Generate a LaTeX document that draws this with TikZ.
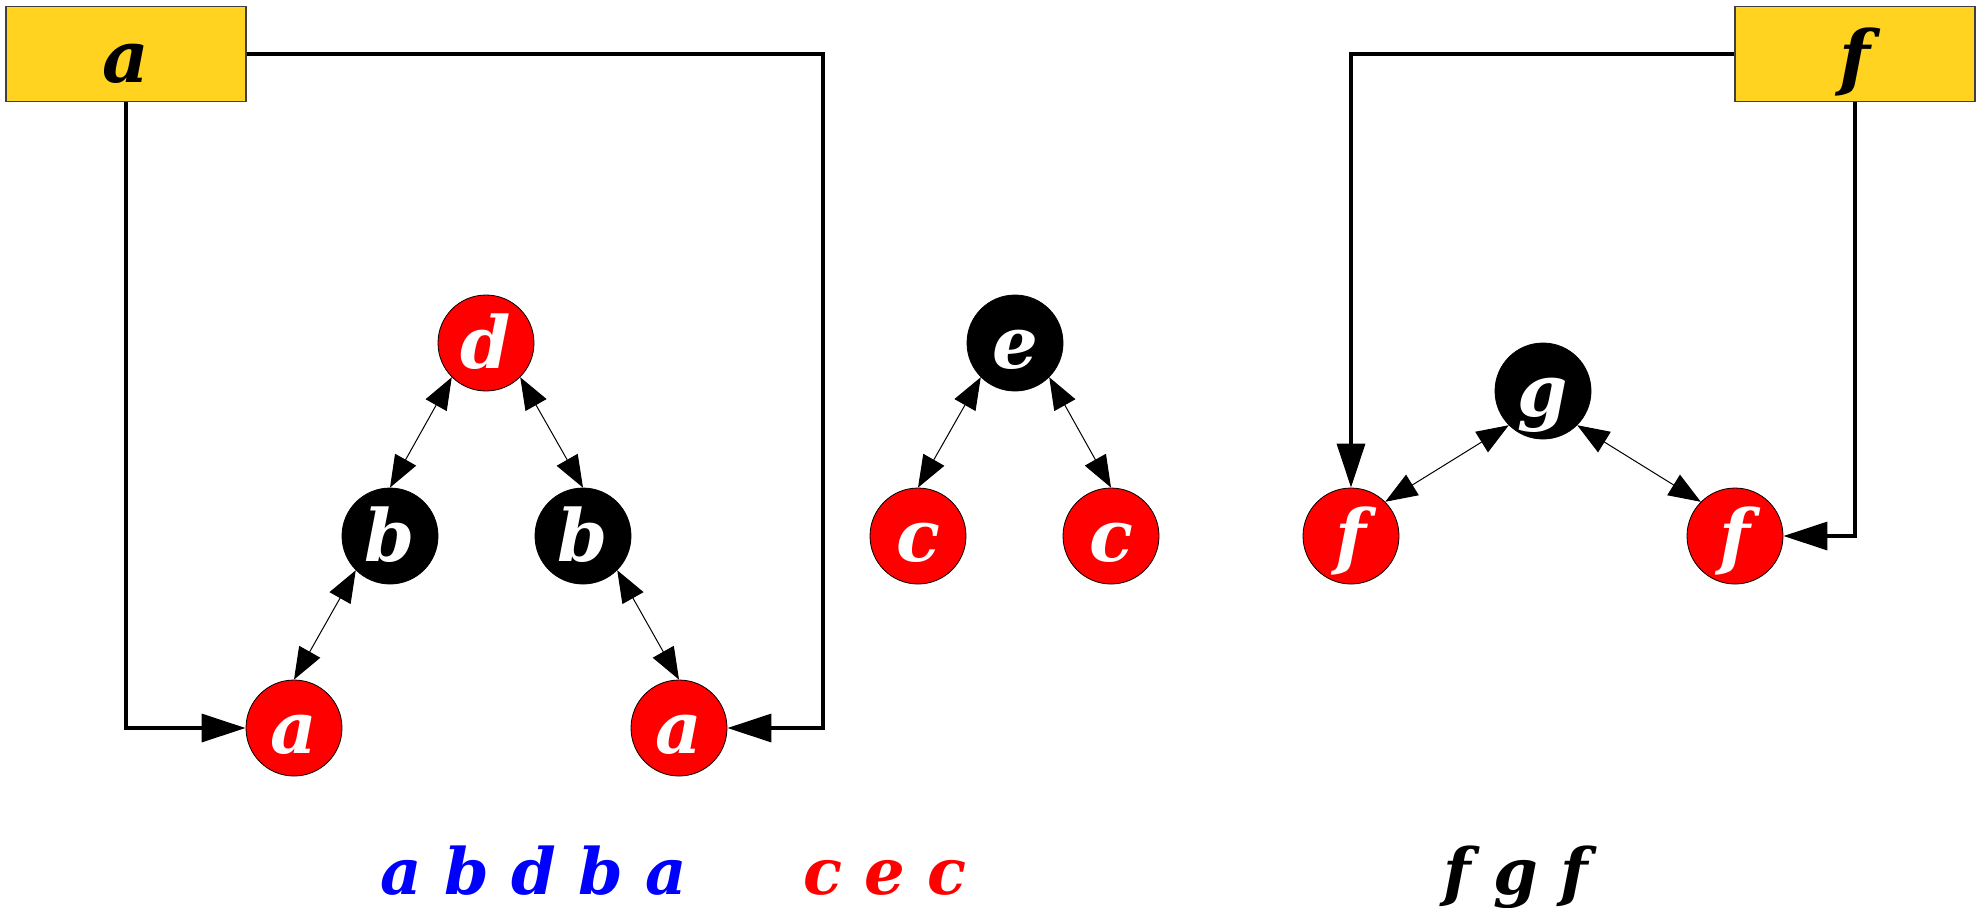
\documentclass[tikz,border=0pt]{standalone}
\usepackage{fontspec}
\setmainfont{DejaVu Serif}
\usetikzlibrary{arrows.meta}
\definecolor{boxgold}{HTML}{FFD320}
\begin{document}
\begin{tikzpicture}[x=0.5pt, y=-0.5pt,
  every node/.style={font=\fontsize{36}{40}\selectfont\bfseries\itshape},
  keybox/.style={rectangle, draw=black!75, line width=0.6pt, fill=boxgold,
    minimum width=120pt, minimum height=47.5pt, text height=28pt, text depth=0pt},
  rednode/.style={circle, draw=black, line width=0.4pt, fill=red,
    text=white, minimum size=48pt, inner sep=0pt, text height=25pt, text depth=0pt},
  blacknode/.style={rednode, fill=black},
  seq/.style={anchor=base, font=\fontsize{32}{36}\selectfont\bfseries\itshape},
  conn/.style={line width=1.7pt, -{Triangle[length=22pt, width=14pt]}},
  link/.style={line width=0.5pt, {Triangle[length=16pt, width=12pt]}-{Triangle[length=16pt, width=12pt]}}]
\useasboundingbox (0,0) rectangle (1986,907);
\node[keybox] (boxa) at (126,54) {a};
\node[keybox] (boxf) at (1855,54) {f};
\node[rednode] (d) at (486,343) {d};
\node[blacknode] (bl) at (390,536) {b};
\node[blacknode] (br) at (583,536) {b};
\node[rednode] (al) at (294,728) {a};
\node[rednode] (ar) at (679,728) {a};
\node[blacknode] (e) at (1015,343) {e};
\node[rednode] (cl) at (918,536) {c};
\node[rednode] (cr) at (1111,536) {c};
\node[blacknode] (g) at (1543,391) {g};
\node[rednode] (fl) at (1351,536) {f};
\node[rednode] (fr) at (1735,536) {f};
\coordinate (aturn) at (823,54);
\draw[link] (d.south west) -- (bl.north);
\draw[link] (d.south east) -- (br.north);
\draw[link] (bl.south west) -- (al.north);
\draw[link] (br.south east) -- (ar.north);
\draw[link] (e.south west) -- (cl.north);
\draw[link] (e.south east) -- (cr.north);
\draw[link] (g.south west) -- (fl.north east);
\draw[link] (g.south east) -- (fr.north west);
\draw[conn] (boxa.south) |- (al);
\draw[conn] (boxa.east) -- (aturn) |- (ar);
\draw[conn] (boxf.west) -| (fl);
\draw[conn] (boxf.south) |- (fr);
\node[seq, text=blue] (seqa) at (534,894) {a b d b a};
\node[seq, text=red] (seqc) at (885,894) {c e c};
\node[seq, text=black] (seqf) at (1516,894) {f g f};
\end{tikzpicture}
\end{document}
